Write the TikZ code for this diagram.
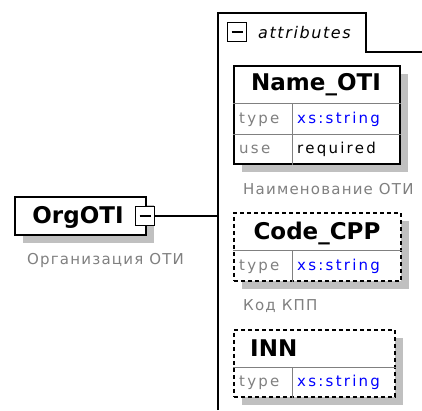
\documentclass[tikz,border=0pt]{standalone}
\usepackage{fontspec}
\setmainfont{DejaVu Sans}
\newfontfamily\lblfont[LetterSpace=8]{DejaVu Sans}
\newfontfamily\rowfont[LetterSpace=15]{DejaVu Sans}
\newfontfamily\attrfont[LetterSpace=10]{DejaVu Sans}
\usetikzlibrary{shadows}
\definecolor{shadowgray}{RGB}{192,192,192}
\definecolor{lblgray}{RGB}{128,128,128}
\definecolor{xsblue}{RGB}{0,0,255}
\begin{document}
\begin{tikzpicture}[x=1pt,y=-1pt,
  elembox/.style={draw=black, line width=1.5pt, fill=white, anchor=north west, inner sep=0pt,
    general shadow={fill=shadowgray, shadow xshift=8pt, shadow yshift=-8pt}},
  optbox/.style={elembox, dash pattern=on 4pt off 3pt},
  minusbox/.style={draw=black, fill=white, line width=1.3pt, minimum size=19pt, inner sep=0pt,
    path picture={\draw[line width=1.3pt] ([xshift=4pt]path picture bounding box.west) -- ([xshift=-4pt]path picture bounding box.east);}},
  title/.style={font=\bfseries\fontsize{23}{23}\selectfont, anchor=base, inner sep=0pt},
  lbl/.style={font=\lblfont\fontsize{15}{15}\selectfont, text=lblgray, anchor=base west, inner sep=0pt},
  rowtext/.style={font=\rowfont\fontsize{15}{15}\selectfont, text=lblgray, anchor=base west, inner sep=0pt},
  val/.style={rowtext, text=xsblue},
  req/.style={rowtext, text=black},
  innerline/.style={draw=lblgray, line width=1pt},
  frame/.style={draw=black, line width=1.5pt},
]
\useasboundingbox[fill=white] (0,0) rectangle (422,410);

% attributes container
\draw[frame] (218,410) -- (218,13) -- (366,13) -- (366,52) -- (422,52);
\node[minusbox] (attrminus) at (237,32) {};
\node[anchor=base west, inner sep=0pt, text=black, font=\attrfont\itshape\fontsize{16}{16}\selectfont] (attrt) at (258,38) {attributes};

% root element
\coordinate (junction) at (218,216);
\node[elembox, minimum width=131pt, minimum height=38pt] (org) at (14,196) {};
\node[title] (orgt) at (78,223.5) {OrgOTI};
\node[minusbox] (orgminus) at (145,216) {};
\draw[frame] (orgminus.east) -- (junction);
\node[lbl] (orgd) at (27,264) {Организация ОТИ};

% Name_OTI
\node[elembox, minimum width=166pt, minimum height=98pt] (nbox) at (233,65) {};
\draw[innerline] ([yshift=-38pt]nbox.north west) -- ([yshift=-38pt]nbox.north east);
\draw[innerline] ([yshift=-69pt]nbox.north west) -- ([yshift=-69pt]nbox.north east);
\draw[innerline] ([xshift=59pt,yshift=-38pt]nbox.north west) -- ([xshift=59pt]nbox.south west);
\node[title] (nt) at (316,90.5) {Name\_OTI};
\node[rowtext] (ntype) at (239,123.5) {type};
\node[val] (nval) at (297,123.5) {xs:string};
\node[rowtext] (nuse) at (239,153.5) {use};
\node[req] (nreq) at (297,153.5) {required};
\node[lbl] (ndesc) at (243,194) {Наименование ОТИ};

% Code_CPP
\node[optbox, minimum width=167pt, minimum height=68pt] (cbox) at (233,212) {};
\draw[innerline] ([yshift=-38pt]cbox.north west) -- ([yshift=-38pt]cbox.north east);
\draw[innerline] ([xshift=59pt,yshift=-38pt]cbox.north west) -- ([xshift=59pt]cbox.south west);
\node[title] (ct) at (317,239) {Code\_CPP};
\node[rowtext] (ctype) at (239,270) {type};
\node[val] (cval) at (297,270) {xs:string};
\node[lbl] (cdesc) at (243,310) {Код КПП};

% INN
\node[optbox, minimum width=161pt, minimum height=67pt] (ibox) at (233,329) {};
\draw[innerline] ([yshift=-38pt]ibox.north west) -- ([yshift=-38pt]ibox.north east);
\draw[innerline] ([xshift=59pt,yshift=-38pt]ibox.north west) -- ([xshift=59pt]ibox.south west);
\node[title, anchor=base west] (it) at (250,356) {INN};
\node[rowtext] (itype) at (239,386.5) {type};
\node[val] (ival) at (297,386.5) {xs:string};
\end{tikzpicture}
\end{document}
